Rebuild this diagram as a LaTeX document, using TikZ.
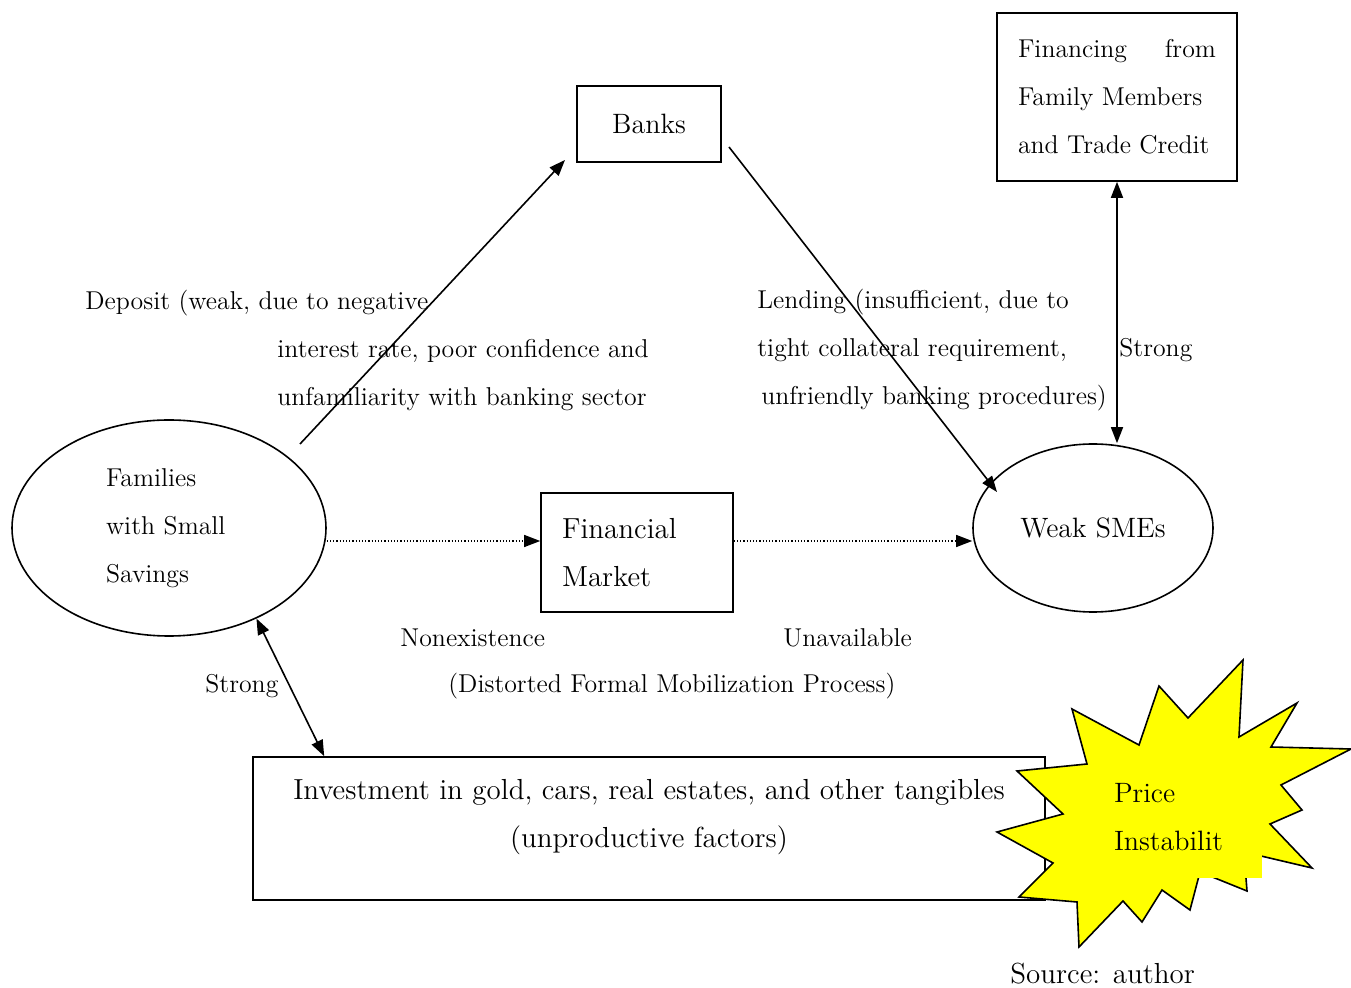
\documentclass[tikz,border=0pt]{standalone}
\usetikzlibrary{arrows.meta,shapes.geometric}
\definecolor{staryellow}{RGB}{255,255,0}
\tikzset{
  box/.style={draw, line width=.8pt, inner sep=0pt},
  lab/.style={font=\fontsize{12.9}{24}\selectfont, align=left, anchor=west, inner sep=0pt},
  big/.style={font=\fontsize{14}{24}\selectfont},
  bigger/.style={font=\fontsize{14.5}{24}\selectfont},
  arr/.style={line width=.8pt, ->},
}
\begin{document}
\begin{tikzpicture}[x=0.5pt, y=-0.5pt, >={Triangle[length=8pt,width=6pt]}]
\useasboundingbox (0,0) rectangle (1351,988);
\node[box, big, minimum width=72pt, minimum height=38pt] (banks) at (649,124) {Banks};
\node[box, lab, anchor=center, minimum width=120pt, minimum height=84pt] (fin) at (1117,97) {\makebox[99pt][s]{Financing\hfill from}\\Family Members\\and Trade Credit};
\node[box, ellipse, lab, anchor=center, text width=63pt, minimum width=157pt, minimum height=108pt] (fam) at (169,528) {Families\\with Small\\Savings};
\node[box, bigger, align=left, text width=75pt, inner xsep=10.5pt, minimum height=59.5pt] (fm) at (637,552.5) {Financial\\Market};
\node[box, ellipse, big, minimum width=120pt, minimum height=84pt] (sme) at (1093,528) {Weak SMEs};
\node[box, minimum width=396pt, minimum height=71.5pt] (inv) at (649,828.5) {};
\node[bigger, align=center] at (649,817) {Investment in gold, cars, real estates, and other tangibles\\(unproductive factors)};

% deposit and lending
\coordinate (d1) at (300,444);
\coordinate (d2) at (565,160);
\draw[arr] (d1) -- (d2);
\node[lab] at (85,350) {Deposit (weak, due to negative\\\hspace*{96pt}interest rate, poor confidence and\\\hspace*{96pt}unfamiliarity with banking sector};
\coordinate (l1) at (729,147);
\coordinate (l2) at (997,492);
\draw[arr] (l1) -- (l2);
\node[lab] at (757,350) {Lending (insufficient, due to\\tight collateral requirement,\\\hspace*{2pt}unfriendly banking procedures)};
\draw[arr, <->] (fin.south) -- (fin.south |- sme.north);
\node[lab] at (1119,350) {Strong};

% formal market
\draw[arr, line width=.6pt, densely dotted] ([yshift=-6.5pt]fam.east) -- ([yshift=-6.5pt]fam.east -| fm.west);
\draw[arr, line width=.6pt, densely dotted] ([yshift=-6.5pt]fam.east -| fm.east) -- ([yshift=-6.5pt]fam.east -| sme.west);
\node[lab] at (400,638) {Nonexistence};
\node[lab] at (783,638) {Unavailable};
\node[lab] at (448,686) {(Distorted Formal Mobilization Process)};

\draw[arr, <->] (fam.-46) -- ([xshift=36pt]inv.north west);
\node[lab] at (205,686) {Strong};

% price instability
\draw[fill=staryellow, line width=.8pt] (1243,660) -- (1239,737) -- (1297,703) -- (1271,747) -- (1351,749) -- (1281,785) -- (1302,810) -- (1270,824) -- (1312,868) -- (1244,852) -- (1247,891) -- (1200,872) -- (1190,910) -- (1162,890) -- (1142,922) -- (1123,901) -- (1079,947) -- (1077,902) -- (1019,897) -- (1053,863) -- (997,832) -- (1063,814) -- (1017,771) -- (1087,764) -- (1072,709) -- (1139,745) -- (1159,686) -- (1188,718) -- cycle;
\node[fill=staryellow, lab, big, anchor=center, text width=64.5pt, inner xsep=9.5pt, minimum height=61pt] (price) at (1178.5,817) {Price\\Instabilit};
\node[lab, bigger] at (1010,974) {Source: author};
\end{tikzpicture}
\end{document}
